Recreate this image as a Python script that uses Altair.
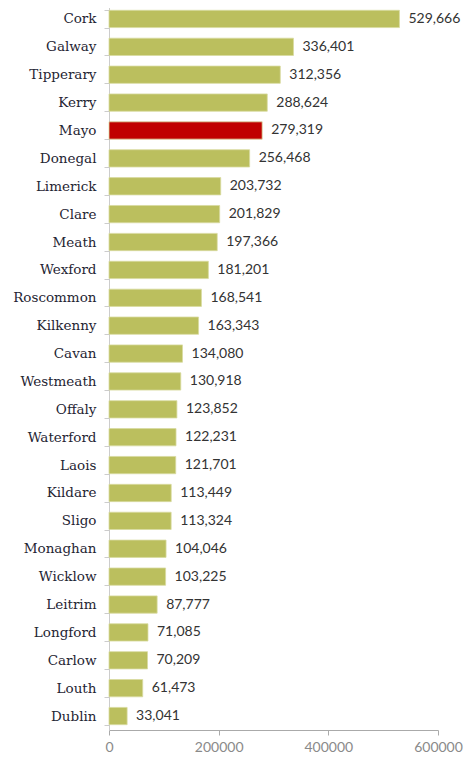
import altair as alt
import pandas as pd

counties = ["Cork", "Galway", "Tipperary", "Kerry", "Mayo", "Donegal", "Limerick", "Clare",
            "Meath", "Wexford", "Roscommon", "Kilkenny", "Cavan", "Westmeath", "Offaly",
            "Waterford", "Laois", "Kildare", "Sligo", "Monaghan", "Wicklow", "Leitrim",
            "Longford", "Carlow", "Louth", "Dublin"]
values = [529666, 336401, 312356, 288624, 279319, 256468, 203732, 201829,
          197366, 181201, 168541, 163343, 134080, 130918, 123852,
          122231, 121701, 113449, 113324, 104046, 103225, 87777,
          71085, 70209, 61473, 33041]
highlight = "Mayo"

df = pd.DataFrame({"county": counties, "value": values})
df["label"] = df["value"].map(lambda v: f"{v:,}")
df["hl"] = df["county"].map(lambda c: "yes" if c == highlight else "no")

y = alt.Y("county:N", sort=counties, title=None,
          scale=alt.Scale(paddingInner=0.38, paddingOuter=0.19),
          axis=alt.Axis(tickBand="extent", tickSize=5, tickColor="#cccccc",
                        domainColor="#cccccc", labelPadding=8,
                        labelFont="DejaVu Serif", labelFontSize=13.5,
                        labelColor="#1f2533", grid=False))
x = alt.X("value:Q", title=None,
          scale=alt.Scale(domain=[0, 600000], nice=False),
          axis=alt.Axis(values=[0, 200000, 400000, 600000], format="d",
                        tickSize=5, tickColor="#aaaaaa", domainColor="#aaaaaa",
                        labelFont="Lato", labelFontSize=14, labelColor="#8a8a8a",
                        labelPadding=5, grid=False, labelFlush=False))

bars = alt.Chart(df).mark_bar(stroke="#d8dba0", strokeWidth=0.8).encode(
    x=x, y=y,
    color=alt.Color("hl:N", scale=alt.Scale(domain=["no", "yes"], range=["#bbbf5e", "#c00000"]),
                    legend=None),
)
text = alt.Chart(df).mark_text(align="left", dx=9, font="Lato", fontSize=14,
                               color="#333333").encode(
    x="value:Q", y=alt.Y("county:N", sort=counties), text="label:N")

chart = (bars + text).properties(
    width=329, height=725,
    autosize=alt.AutoSizeParams(type="none"),
    padding={"left": 101, "top": -3, "right": 30, "bottom": 30},
).configure_view(stroke=None)

chart.save("out.html", embed_options={"renderer": "svg", "actions": False})
